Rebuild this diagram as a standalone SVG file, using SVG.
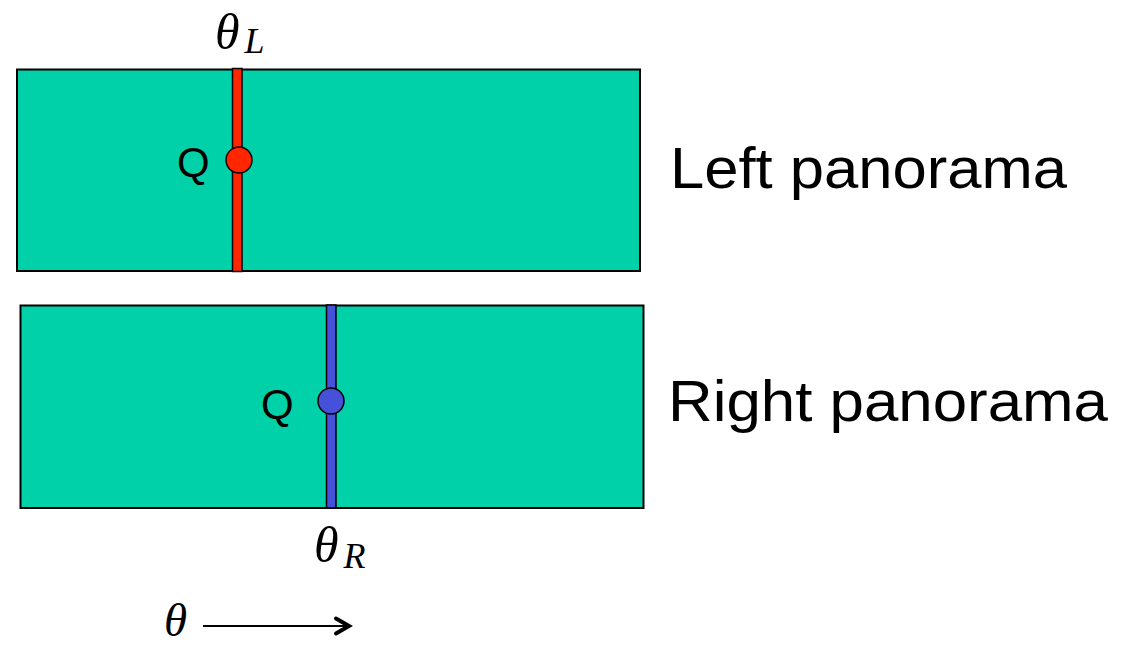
<svg xmlns="http://www.w3.org/2000/svg" width="1134" height="646" viewBox="0 0 1134 646">
<style>
.pan{fill:#00d1a9;stroke:#000;stroke-width:2}
.lbl{font-family:"Liberation Sans",Arial,sans-serif;fill:#000}
.math{font-family:"Liberation Serif","Times New Roman",serif;font-style:italic;fill:#000}
</style>
<rect width="1134" height="646" fill="#fff"/>
<g id="left-panorama">
<rect class="pan" x="17" y="69.5" width="623" height="201.5"/>
<rect x="232.5" y="68.5" width="9.5" height="203" fill="#ff2600" stroke="#000" stroke-width="1.5"/>
<circle cx="239" cy="160" r="13" fill="#ff2600" stroke="#000" stroke-width="1.5"/>
<text class="lbl" x="177" y="177" font-size="42">Q</text>
<text class="lbl" x="670" y="188" font-size="58" textLength="397" lengthAdjust="spacingAndGlyphs">Left panorama</text>
<text class="math" x="215" y="49" font-size="50">θ<tspan font-size="36" dy="4" dx="5">L</tspan></text>
</g>
<g id="right-panorama">
<rect class="pan" x="20.5" y="305.5" width="623" height="202.5"/>
<rect x="326.5" y="305" width="9.5" height="203" fill="#4650d9" stroke="#000" stroke-width="1.5"/>
<circle cx="331" cy="401" r="13" fill="#4650d9" stroke="#000" stroke-width="1.5"/>
<text class="lbl" x="261" y="419" font-size="42">Q</text>
<text class="lbl" x="668" y="421" font-size="58" textLength="440" lengthAdjust="spacingAndGlyphs">Right panorama</text>
<text class="math" x="314" y="562" font-size="50">θ<tspan font-size="36" dy="6" dx="5">R</tspan></text>
</g>
<g id="connectors">
<line x1="203" y1="626" x2="348" y2="626" stroke="#000" stroke-width="2"/>
<path d="M336,618.5 L349,626 L336,633.5" fill="none" stroke="#000" stroke-width="4" stroke-linejoin="miter" stroke-linecap="round"/>
</g>
<g id="axis-label">
<text class="math" x="164" y="636" font-size="47">θ</text>
</g>
</svg>
